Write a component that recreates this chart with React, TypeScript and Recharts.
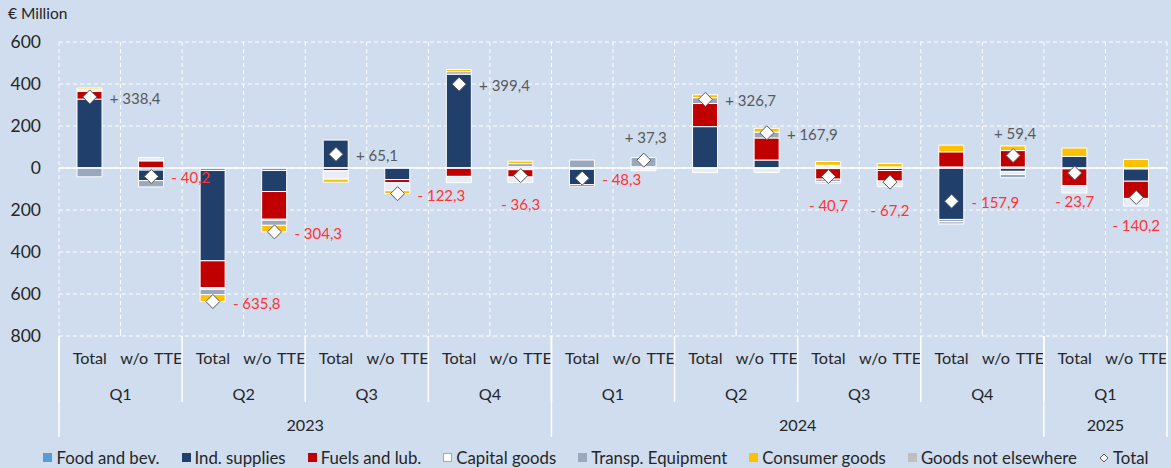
import React from 'react'
import { ComposedChart, Bar, Line, XAxis, YAxis, CartesianGrid, ReferenceLine, Legend, LabelList } from 'recharts'

// categories (two-level axis: bar type / quarter / year)
const CATEGORIES = ['Total', 'w/o TTE', 'Total', 'w/o TTE', 'Total', 'w/o TTE', 'Total', 'w/o TTE',
    'Total', 'w/o TTE', 'Total', 'w/o TTE', 'Total', 'w/o TTE', 'Total', 'w/o TTE', 'Total', 'w/o TTE']
const QUARTERS = ['Q1', 'Q1', 'Q2', 'Q2', 'Q3', 'Q3', 'Q4', 'Q4', 'Q1', 'Q1', 'Q2', 'Q2', 'Q3', 'Q3', 'Q4', 'Q4', 'Q1', 'Q1']
const YEARS = ['2023', '2023', '2023', '2023', '2023', '2023', '2023', '2023',
    '2024', '2024', '2024', '2024', '2024', '2024', '2024', '2024', '2025', '2025']

// contributions, € million
const FOOD = [0, -10, -12, -12, 0, 0, 0, -8, -6, 0, 0, 0, -3, 0, 5, 5, -4, -5]
const IND = [328, -50, -430, -100, 133, -55, 447, 6, -73, 6, 197, 38, 5, -12, -245, -16, 55, -58]
const FUELS = [37, 34, -128, -132, -13, -15, -40, -35, -7, -4, 110, 105, -50, -50, 72, 78, -80, -82]
const CAPITAL = [10, 16, -8, -5, -40, -38, -30, -26, 0, -9, -22, -21, 8, -27, 0, -15, -35, -36]
const TRANSP = [-42, -30, -25, -24, 0, 0, 12, 15, 38, 44, 28, 28, -12, 5, -10, -15, 0, 0]
const CONSUMER = [6, 0, -33, -31, -15, -14, 10, 12, 0, 0, 14, 18, 18, 17, 32, 22, 40, 41]
const GNE = [0, 0, 0, 0, 0, 0, 0, 0, 0, 0, 0, 0, -7, 0, -12, 0, 0, 0]
const TOTAL = [338.4, -40.2, -635.8, -304.3, 65.1, -122.3, 399.4, -36.3, -48.3, 37.3, 326.7, 167.9, -40.7, -67.2, -157.9, 59.4, -23.7, -140.2]

const Y_TICKS = [-800, -600, -400, -200, 0, 200, 400, 600]

// where each total label sits relative to its marker
const LABEL_SIDE = ['right', 'right', 'right', 'right', 'right', 'right', 'right', 'below', 'right',
    'above', 'right', 'right', 'below', 'below', 'right', 'above', 'below', 'below']

const SERIES = [
    { key: 'food', name: 'Food and bev.', color: '#5B9BD5', values: FOOD },
    { key: 'ind', name: 'Ind. supplies', color: '#213F6B', values: IND },
    { key: 'fuels', name: 'Fuels and lub.', color: '#C00000', values: FUELS },
    { key: 'capital', name: 'Capital goods', color: '#E6EDF7', values: CAPITAL },
    { key: 'transp', name: 'Transp. Equipment', color: '#9AA8BE', values: TRANSP },
    { key: 'consumer', name: 'Consumer goods', color: '#FFC000', values: CONSUMER },
    { key: 'gne', name: 'Goods not elsewhere', color: '#BFBFBF', values: GNE },
]

const data = CATEGORIES.map((cat, i) => {
    const row: any = { cat, total: TOTAL[i] }
    SERIES.forEach(s => { row[s.key] = s.values[i] })
    return row
})

const W = 1171
const H = 468
const MARGIN = { top: 42, right: 4, left: 0, bottom: 0 }
const Y_AXIS_W = 59
const X_AXIS_H = 132
const PLOT_BOTTOM = H - MARGIN.bottom - X_AXIS_H
const BAND = (W - MARGIN.left - MARGIN.right - Y_AXIS_W) / CATEGORIES.length

const FONT = 'Lato, "Liberation Sans", sans-serif'
const TEXT = '#262626'
const BG = '#CFDDEF'
const AXIS_FS = 16.2

const runLength = (arr: string[], i: number) => {
    let n = 1
    while (i + n < arr.length && arr[i + n] === arr[i] && YEARS[i + n] === YEARS[i]) n++
    return n
}

const AxisTick = (props: any) => {
    const { x, payload } = props
    const i = payload.index
    const left = x - BAND / 2
    const y0 = PLOT_BOTTOM
    const qStart = i === 0 || QUARTERS[i] !== QUARTERS[i - 1] || YEARS[i] !== YEARS[i - 1]
    const yStart = i === 0 || YEARS[i] !== YEARS[i - 1]
    const last = i === CATEGORIES.length - 1
    return (
        <g>
            <text x={x} y={y0 + 21} textAnchor="middle" dominantBaseline="central"
                fontSize={AXIS_FS} fill={TEXT} style={{ wordSpacing: 2 }}>{payload.value}</text>
            {!qStart && <line x1={left} x2={left} y1={y0 - 4} y2={y0} stroke="#fff" />}
            {qStart && <line x1={left} x2={left} y1={y0} y2={y0 + 66} stroke="#fff" strokeWidth={1.5} />}
            {qStart && (
                <text x={left + runLength(QUARTERS, i) * BAND / 2} y={y0 + 57} textAnchor="middle"
                    dominantBaseline="central" fontSize={AXIS_FS} fill={TEXT}>{QUARTERS[i]}</text>
            )}
            {yStart && <line x1={left} x2={left} y1={y0} y2={y0 + 101} stroke="#fff" strokeWidth={1.5} />}
            {yStart && (
                <text x={left + runLength(YEARS, i) * BAND / 2} y={y0 + 88} textAnchor="middle"
                    dominantBaseline="central" fontSize={AXIS_FS} fill={TEXT}>{YEARS[i]}</text>
            )}
            {last && <line x1={x + BAND / 2} x2={x + BAND / 2} y1={y0} y2={y0 + 101} stroke="#fff" strokeWidth={1.5} />}
        </g>
    )
}

const Diamond = (props: any) => {
    const { cx, cy, index } = props
    if (cx == null || cy == null) return <g key={`d-${index}`} />
    const r = 7
    return (
        <polygon key={`d-${index}`} points={`${cx},${cy - r} ${cx + r},${cy} ${cx},${cy + r} ${cx - r},${cy}`}
            fill="#fff" stroke="#595959" strokeWidth={1} />
    )
}

const fmt = (v: number) => (v < 0 ? '- ' : '+ ') + Math.abs(v).toFixed(1).replace('.', ',')

const TotalLabel = (props: any) => {
    const { x, y, value } = props
    const i = props.index != null ? props.index : TOTAL.indexOf(value)
    const side = LABEL_SIDE[i]
    let tx = x + 20, ty = y + 1, anchor = 'start'
    if (side === 'below') { tx = x; ty = y + 28; anchor = 'middle' }
    if (side === 'above') { tx = x + 2; ty = y - 23; anchor = 'middle' }
    return (
        <text x={tx} y={ty} textAnchor={anchor} dominantBaseline="central" fontSize={15}
            fill={value < 0 ? '#FF3333' : '#595959'}>{fmt(value)}</text>
    )
}

const LegendContent = () => (
    <div style={{
        display: 'flex', justifyContent: 'center', gap: 22, paddingLeft: 21,
        fontFamily: FONT, fontSize: 16.8, color: TEXT
    }}>
        {SERIES.map(s => (
            <div key={s.key} style={{ display: 'flex', alignItems: 'center', gap: 4 }}>
                <span style={{
                    width: 9, height: 9, background: s.key === 'capital' ? '#fff' : s.color,
                    border: s.key === 'capital' ? '1px solid #A6A6A6' : 'none', boxSizing: 'border-box'
                }} />
                <span>{s.name}</span>
            </div>
        ))}
        <div style={{ display: 'flex', alignItems: 'center', gap: 4 }}>
            <svg width={10} height={10}><polygon points="5,1 9,5 5,9 1,5" fill="#fff" stroke="#595959" /></svg>
            <span>Total</span>
        </div>
    </div>
)

export default function App() {
    return (
        <div style={{ position: 'absolute', left: 0, top: 0, width: W, height: H, background: BG, fontFamily: FONT }}>
            <div style={{ position: 'absolute', left: 8, top: 4, fontSize: 15.5, color: TEXT }}>€ Million</div>
            <ComposedChart width={W} height={H} data={data} margin={MARGIN} stackOffset="sign">
                <CartesianGrid stroke="#fff" strokeDasharray="4 3"
                    verticalCoordinatesGenerator={({ offset }: any) =>
                        CATEGORIES.map((_, i) => offset.left + i * offset.width / CATEGORIES.length)
                            .concat([offset.left + offset.width])} />
                <XAxis dataKey="cat" interval={0} height={X_AXIS_H} axisLine={false} tickLine={false}
                    tick={(p: any) => <AxisTick {...p} />} />
                <YAxis width={Y_AXIS_W} domain={[-800, 600]} ticks={Y_TICKS} axisLine={false} tickLine={false}
                    tickMargin={12} tickFormatter={(v: number) => String(Math.abs(v))}
                    tick={{ fill: TEXT, fontSize: 17.5 }} />
                <ReferenceLine y={0} stroke="#fff" strokeWidth={1.5} />
                {SERIES.map(s => (
                    <Bar key={s.key} dataKey={s.key} name={s.name} stackId="a" fill={s.color}
                        stroke="#fff" strokeWidth={1} barSize={25} isAnimationActive={false} />
                ))}
                <Line dataKey="total" name="Total" stroke="none" dot={(p: any) => <Diamond {...p} />}
                    activeDot={false} isAnimationActive={false}>
                    <LabelList dataKey="total" content={(p: any) => <TotalLabel {...p} />} />
                </Line>
                <Legend layout="horizontal" verticalAlign="middle" align="center"
                    wrapperStyle={{ left: 0, top: 447, width: W, height: 22 }}
                    content={() => <LegendContent />} />
            </ComposedChart>
        </div>
    )
}
